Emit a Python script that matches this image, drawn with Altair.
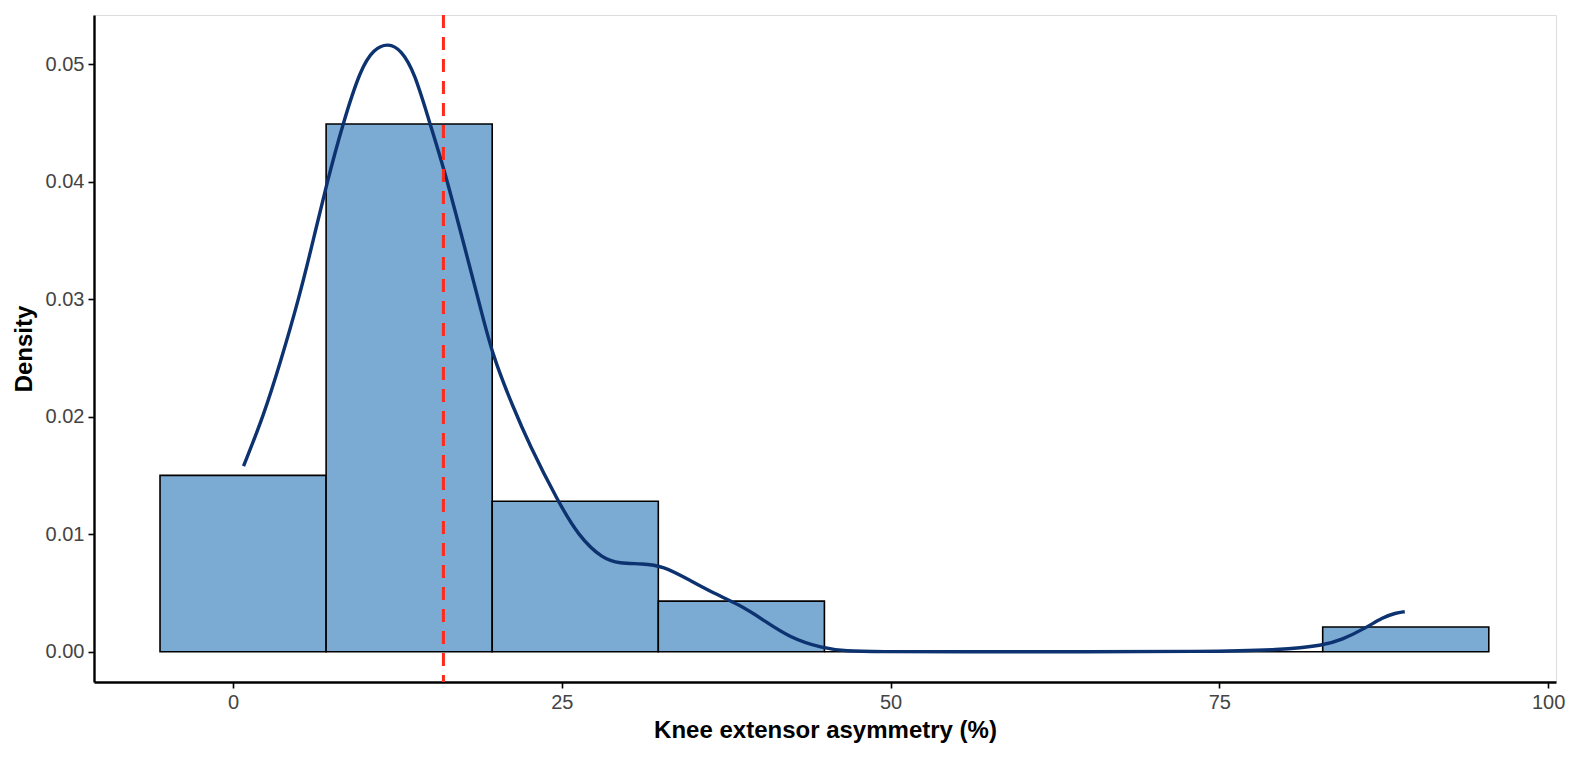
import altair as alt
import pandas as pd

# Histogram (density scale), bin edges and heights
bin_start = [-5.55, 7.08, 19.71, 32.34, 44.97, 57.60, 70.23, 82.86]
bin_end = [7.08, 19.71, 32.34, 44.97, 57.60, 70.23, 82.86, 95.49]
bin_density = [0.0150, 0.0449, 0.0128, 0.0043, 0.0, 0.0, 0.0, 0.0021]

# Kernel density curve
kde_x = [0.8, 2.3, 3.6, 5.0, 6.1, 7.16, 8.37, 9.7, 10.7, 11.8, 12.8, 13.8, 14.9,
         16.0, 17.5, 18.7, 19.7, 21.3, 22.5, 24.7, 26.3, 28.1, 29.4, 31.1, 32.7,
         34.7, 36.5, 38.5, 40.2, 42.3, 44.8, 46.6, 49.0, 55.0, 65.0, 73.5, 79.8,
         82.9, 84.3, 86.1, 87.4, 88.4, 89.1]
kde_y = [0.0158, 0.0200, 0.0246, 0.0300, 0.0350, 0.0400, 0.0450, 0.0496, 0.0513,
         0.0518, 0.0512, 0.0493, 0.0452, 0.0413, 0.0349, 0.0298, 0.0253, 0.0208,
         0.0177, 0.0128, 0.0098, 0.0079, 0.0075, 0.0075, 0.0073, 0.0061, 0.0050,
         0.0040, 0.0028, 0.0012, 0.0003, 0.00005, 0.0, 0.0, 0.0, 0.0, 0.00014,
         0.00054, 0.0010, 0.0020, 0.0029, 0.0033, 0.0034]

median_line = [16.0]

x_ticks = [0, 25, 50, 75, 100]
y_ticks = [0.00, 0.01, 0.02, 0.03, 0.04, 0.05]

hist_df = pd.DataFrame({"x0": bin_start, "x1": bin_end, "d": bin_density})
kde_df = pd.DataFrame({"x": kde_x, "y": kde_y})
line_df = pd.DataFrame({"x": median_line})

FONT = "Liberation Sans"
xscale = alt.Scale(domain=[-10.57, 100.6], nice=False, zero=False)
yscale = alt.Scale(domain=[-0.00258, 0.05418], nice=False, zero=False)

common = dict(grid=False, labelFontSize=20, labelColor="#444444", labelFont=FONT,
              titleFontSize=24, titleFont=FONT, titleFontWeight="bold",
              titleColor="black", tickColor="black", tickWidth=1.6, tickSize=6,
              domainColor="black", domainWidth=2.4, labelPadding=4)

xaxis = alt.Axis(title="Knee extensor asymmetry (%)", values=x_ticks,
                 titlePadding=6, **common)
yaxis = alt.Axis(title="Density", values=y_ticks, format=".2f",
                 titlePadding=9, **common)

bars = alt.Chart(hist_df).mark_rect(
    fill="#7BAAD3", stroke="black", strokeWidth=1.6
).encode(
    x=alt.X("x0:Q", scale=xscale, axis=xaxis),
    x2="x1:Q",
    y=alt.Y("d:Q", scale=yscale, axis=yaxis),
    y2=alt.datum(0),
)

kde = alt.Chart(kde_df).mark_line(
    color="#0D3270", strokeWidth=3.4, interpolate="basis"
).encode(
    x=alt.X("x:Q", scale=xscale),
    y=alt.Y("y:Q", scale=yscale),
)

vline = alt.Chart(line_df).mark_rule(
    color="#FF2A1A", strokeWidth=3, strokeDash=[13, 9]
).encode(
    x=alt.X("x:Q", scale=xscale),
)

chart = alt.layer(bars, kde, vline).properties(
    width=1462, height=667,
    autosize=alt.AutoSizeParams(type="none"),
    padding={"left": 86, "top": 7, "right": 10, "bottom": 70},
).configure_view(
    stroke="#333333", strokeWidth=1.6
).configure(background="white")

chart.save("out.html", embed_options={"renderer": "svg", "actions": False})
